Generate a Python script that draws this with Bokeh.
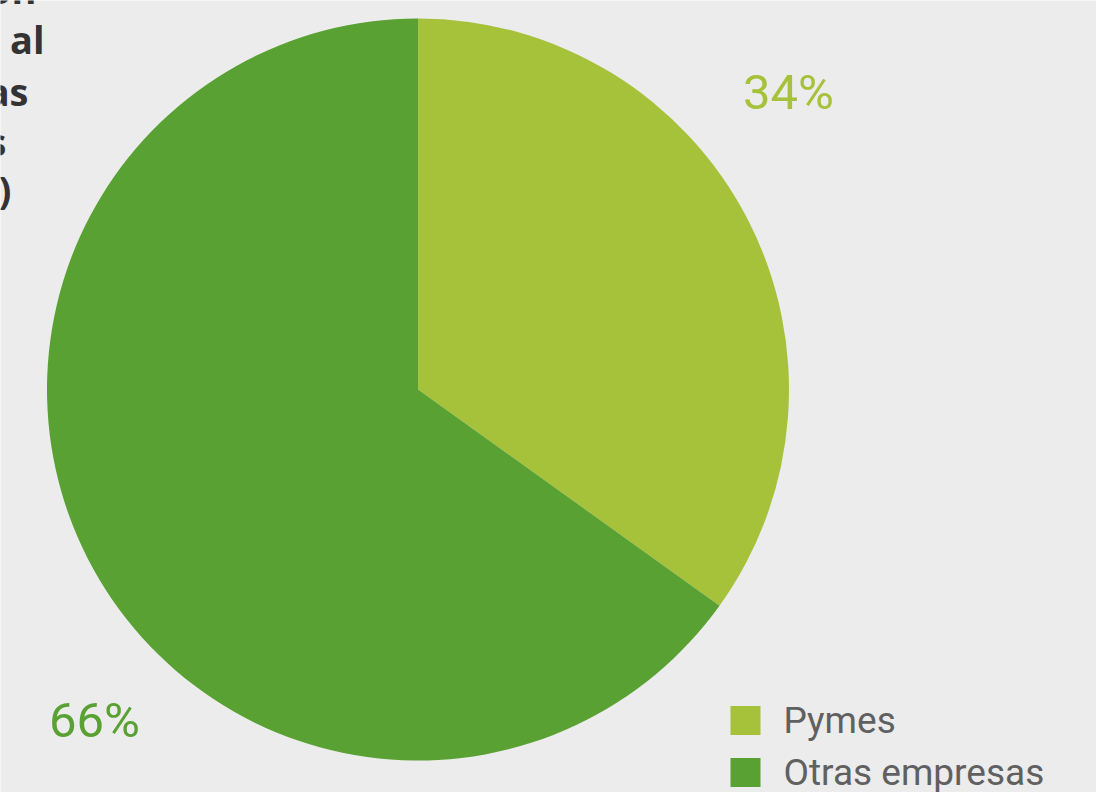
import numpy as np
from bokeh.plotting import figure
from bokeh.models import Range1d, ColumnDataSource
from bokeh.core.properties import value
from bokeh.embed import file_html
from bokeh.resources import INLINE

# ---------------- data ----------------
categories = ["Pymes", "Otras empresas"]
shares = [34.9, 65.1]              # slice sizes as drawn
share_labels = ["34%", "66%"]      # labels printed on the chart
colors = ["#a6c13a", "#58a132"]

title_lines = ["Participación", "de las pymes respecto al", "total de empresas",
               "exportadoras españolas", "(%)"]

# ---------------- layout (screen-like px coordinates, y up) ----------------
W, H = 1096, 792
def Y(sy):  # screen y -> data y
    return H - sy

p = figure(width=W, height=H, output_backend="svg", toolbar_location=None,
           x_range=Range1d(0, W), y_range=Range1d(0, H),
           min_border=0, outline_line_color=None)
p.axis.visible = False
p.grid.visible = False
p.background_fill_color = "#ececec"
p.border_fill_color = "#ececec"

cx, cy, r = 417.5, Y(389), 371

frac = np.array(shares) / np.sum(shares)
cum = np.concatenate([[0], np.cumsum(frac)])
start = np.pi / 2 - cum[:-1] * 2 * np.pi
end = np.pi / 2 - cum[1:] * 2 * np.pi
src = ColumnDataSource(dict(cat=categories, start=start, end=end, color=colors))
p.wedge(x=cx, y=cy, radius=r, start_angle="start", end_angle="end", direction="clock",
        fill_color="color", line_color=None, source=src)

# percentage labels
lab_x = [788, 94]
lab_y = [Y(92), Y(720)]
p.text(x=lab_x, y=lab_y, text=share_labels, text_color=colors,
       text_font=value("Roboto"), text_font_size="49px",
       text_align="center", text_baseline="middle")

# legend (manual)
leg_x = 745
leg_y = [Y(720), Y(772)]
p.rect(x=leg_x, y=leg_y, width=30, height=29, fill_color=colors, line_color=None)
p.text(x=783, y=leg_y, text=categories, text_color="#606060",
       text_font=value("Roboto"), text_font_size="37px",
       text_align="left", text_baseline="middle")

# title block (partly cut off at the left edge)
title_right = [36, 44, 28, 6, 11]
title_base = [Y(-12), Y(38), Y(90), Y(140), Y(188)]
p.text(x=title_right, y=title_base, text=title_lines, text_color="#333333",
       text_font=value("Open Sans"), text_font_style="bold", text_font_size="38px",
       text_align="right", text_baseline="alphabetic")

open("out.html", "w").write(file_html(p, INLINE))
